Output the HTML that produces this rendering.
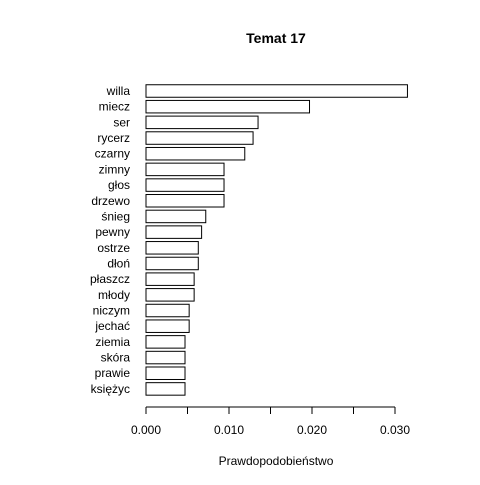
<!DOCTYPE html>
<html><head><meta charset="utf-8"><style>
body{margin:0;background:#fff}
svg text{font-family:"Liberation Sans","DejaVu Sans",sans-serif;font-size:12px;fill:#000}
</style></head><body>
<svg id="chart" width="480" height="480" xmlns="http://www.w3.org/2000/svg">
<rect width="480" height="480" fill="#fff"/>
<text x="276" y="43" text-anchor="middle" style="font-weight:bold;font-size:14px">Temat 17</text>
<text x="276" y="465" text-anchor="middle">Prawdopodobieństwo</text>
<g id="bars"></g>
<g id="axis"></g>
</svg>
<script>
const categories=["willa","miecz","ser","rycerz","czarny","zimny","głos","drzewo","śnieg","pewny","ostrze","dłoń","płaszcz","młody","niczym","jechać","ziemia","skóra","prawie","księżyc"];
const values=[0.0315,0.0197,0.0135,0.0129,0.0119,0.0094,0.0094,0.0094,0.0072,0.0067,0.0063,0.0063,0.0058,0.0058,0.0052,0.0052,0.0047,0.0047,0.0047,0.0047];
const tickValues=[0,0.005,0.01,0.015,0.02,0.025,0.03];
const tickLabels=["0.000","0.010","0.020","0.030"];
const labelValues=[0,0.01,0.02,0.03];
const NS="http://www.w3.org/2000/svg";
const x=v=>146+v*8300;
const y=i=>91+i*15.68;
const bars=document.getElementById('bars'),axis=document.getElementById('axis');
categories.forEach((c,i)=>{
 const r=document.createElementNS(NS,'rect');
 r.setAttribute('x',x(0));r.setAttribute('y',y(i)-6.25);
 r.setAttribute('width',x(values[i])-x(0));r.setAttribute('height',12.5);
 r.setAttribute('fill','#fff');r.setAttribute('stroke','#000');r.setAttribute('stroke-width','1');
 
 
 bars.appendChild(r);
 const t=document.createElementNS(NS,'text');
 t.setAttribute('x',130);t.setAttribute('y',y(i)+4);t.setAttribute('text-anchor','end');
 t.textContent=c;
 
 
 bars.appendChild(t);
});
const l=document.createElementNS(NS,'line');
l.setAttribute('x1',x(0));l.setAttribute('x2',x(0.03));l.setAttribute('y1',407);l.setAttribute('y2',407);l.setAttribute('stroke','#000');


axis.appendChild(l);
tickValues.forEach(v=>{
 const t=document.createElementNS(NS,'line');
 t.setAttribute('x1',x(v));t.setAttribute('x2',x(v));t.setAttribute('y1',407);t.setAttribute('y2',414);t.setAttribute('stroke','#000');
 
 
 axis.appendChild(t);
});
labelValues.forEach((v,i)=>{
 const t=document.createElementNS(NS,'text');
 t.setAttribute('x',x(v));t.setAttribute('y',434);t.setAttribute('text-anchor','middle');
 t.textContent=tickLabels[i];
 
 
 axis.appendChild(t);
});
</script>
</body></html>
